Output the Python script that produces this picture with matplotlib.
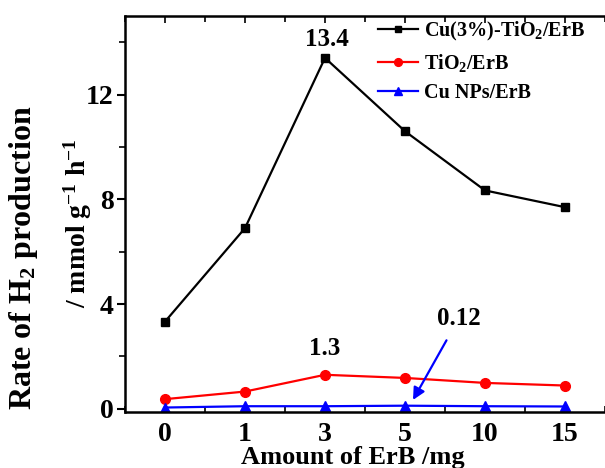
import matplotlib.pyplot as plt
from matplotlib.ticker import MultipleLocator, FixedLocator

plt.rcParams['font.family'] = ['Liberation Serif', 'DejaVu Serif']
plt.rcParams['font.weight'] = 'bold'
plt.rcParams['mathtext.fontset'] = 'custom'
plt.rcParams['mathtext.rm'] = 'Liberation Serif:bold'
plt.rcParams['mathtext.it'] = 'Liberation Serif:bold'
plt.rcParams['mathtext.bf'] = 'Liberation Serif:bold'
plt.rcParams['mathtext.default'] = 'rm'

# ErB loading (mg) and H2 evolution rates (mmol g-1 h-1)
erb_amount = ['0', '1', '3', '5', '10', '15']
cu_tio2_erb = [3.33, 6.9, 13.4, 10.6, 8.34, 7.7]
tio2_erb = [0.37, 0.66, 1.3, 1.18, 0.99, 0.89]
cu_nps_erb = [0.05, 0.1, 0.1, 0.12, 0.1, 0.09]

x = list(range(len(erb_amount)))

fig = plt.figure(figsize=(6.05, 4.68), dpi=100)
ax = fig.add_axes([0.2066, 0.1197, 0.7934, 0.8461])

ax.plot(x, cu_tio2_erb, color='black', marker='s', markersize=6, lw=1.6,
        label='Cu(3%)-TiO$_2$/ErB')
ax.plot(x, tio2_erb, color='red', marker='o', markersize=7, lw=1.6,
        label='TiO$_2$/ErB')
ax.plot(x, cu_nps_erb, color='blue', marker='^', markersize=7, lw=1.6,
        label='Cu NPs/ErB')

ax.set_xlim(-0.5, 5.5)
ax.set_ylim(-0.12, 15)
ax.set_xticks(x)
ax.set_xticklabels(erb_amount)
ax.xaxis.set_minor_locator(FixedLocator([i + 0.5 for i in range(-1, 6)]))
ax.yaxis.set_major_locator(MultipleLocator(4))
ax.yaxis.set_minor_locator(MultipleLocator(2))

ax.tick_params(axis='y', which='major', labelsize=20, width=1.5, length=6,
               direction='out', pad=2)
ax.tick_params(axis='y', which='minor', width=1.2, length=4, direction='out')
ax.tick_params(axis='x', which='major', labelsize=20, width=1.2, length=5,
               direction='in', top=True, pad=7)
ax.tick_params(axis='x', which='minor', width=1.2, length=4,
               direction='in', top=True)
for s in ax.spines.values():
    s.set_linewidth(1.8)
ax.spines['right'].set_visible(False)

ax.set_xlabel('Amount of ErB /mg', fontsize=19, fontweight='bold')
ax.xaxis.set_label_coords(0.475, -0.085)

# two-line y axis title
fig.text(0.039, 0.449, 'Rate of H$_2$ production', rotation=90, ha='center',
         va='center', fontsize=23, fontweight='bold')
fig.text(0.128, 0.524, '/ mmol g$^{-1}$ h$^{-1}$', rotation=90, ha='center',
         va='center', fontsize=20, fontweight='bold')

# value labels for the peaks
ax.text(x[2] + 0.02, cu_tio2_erb[2] + 0.25, '13.4', ha='center', va='bottom',
        fontsize=18, fontweight='bold')
ax.text(x[2], tio2_erb[2] + 0.55, '1.3', ha='center', va='bottom',
        fontsize=18, fontweight='bold')
ax.annotate('0.12', xy=(x[3] + 0.1, cu_nps_erb[3] + 0.22),
            xytext=(3.67, 3.0), ha='center', va='bottom',
            fontsize=18, fontweight='bold',
            arrowprops=dict(arrowstyle='-|>', color='blue', lw=1.6,
                            shrinkA=6, shrinkB=0))

leg = ax.legend(loc='upper left', bbox_to_anchor=(0.527, 0.99), frameon=False,
                fontsize=14.5, handlelength=2.0, handletextpad=0.3,
                labelspacing=0.45, borderpad=0, borderaxespad=0,
                markerscale=0.8)

fig.savefig('out.png', dpi=100)
